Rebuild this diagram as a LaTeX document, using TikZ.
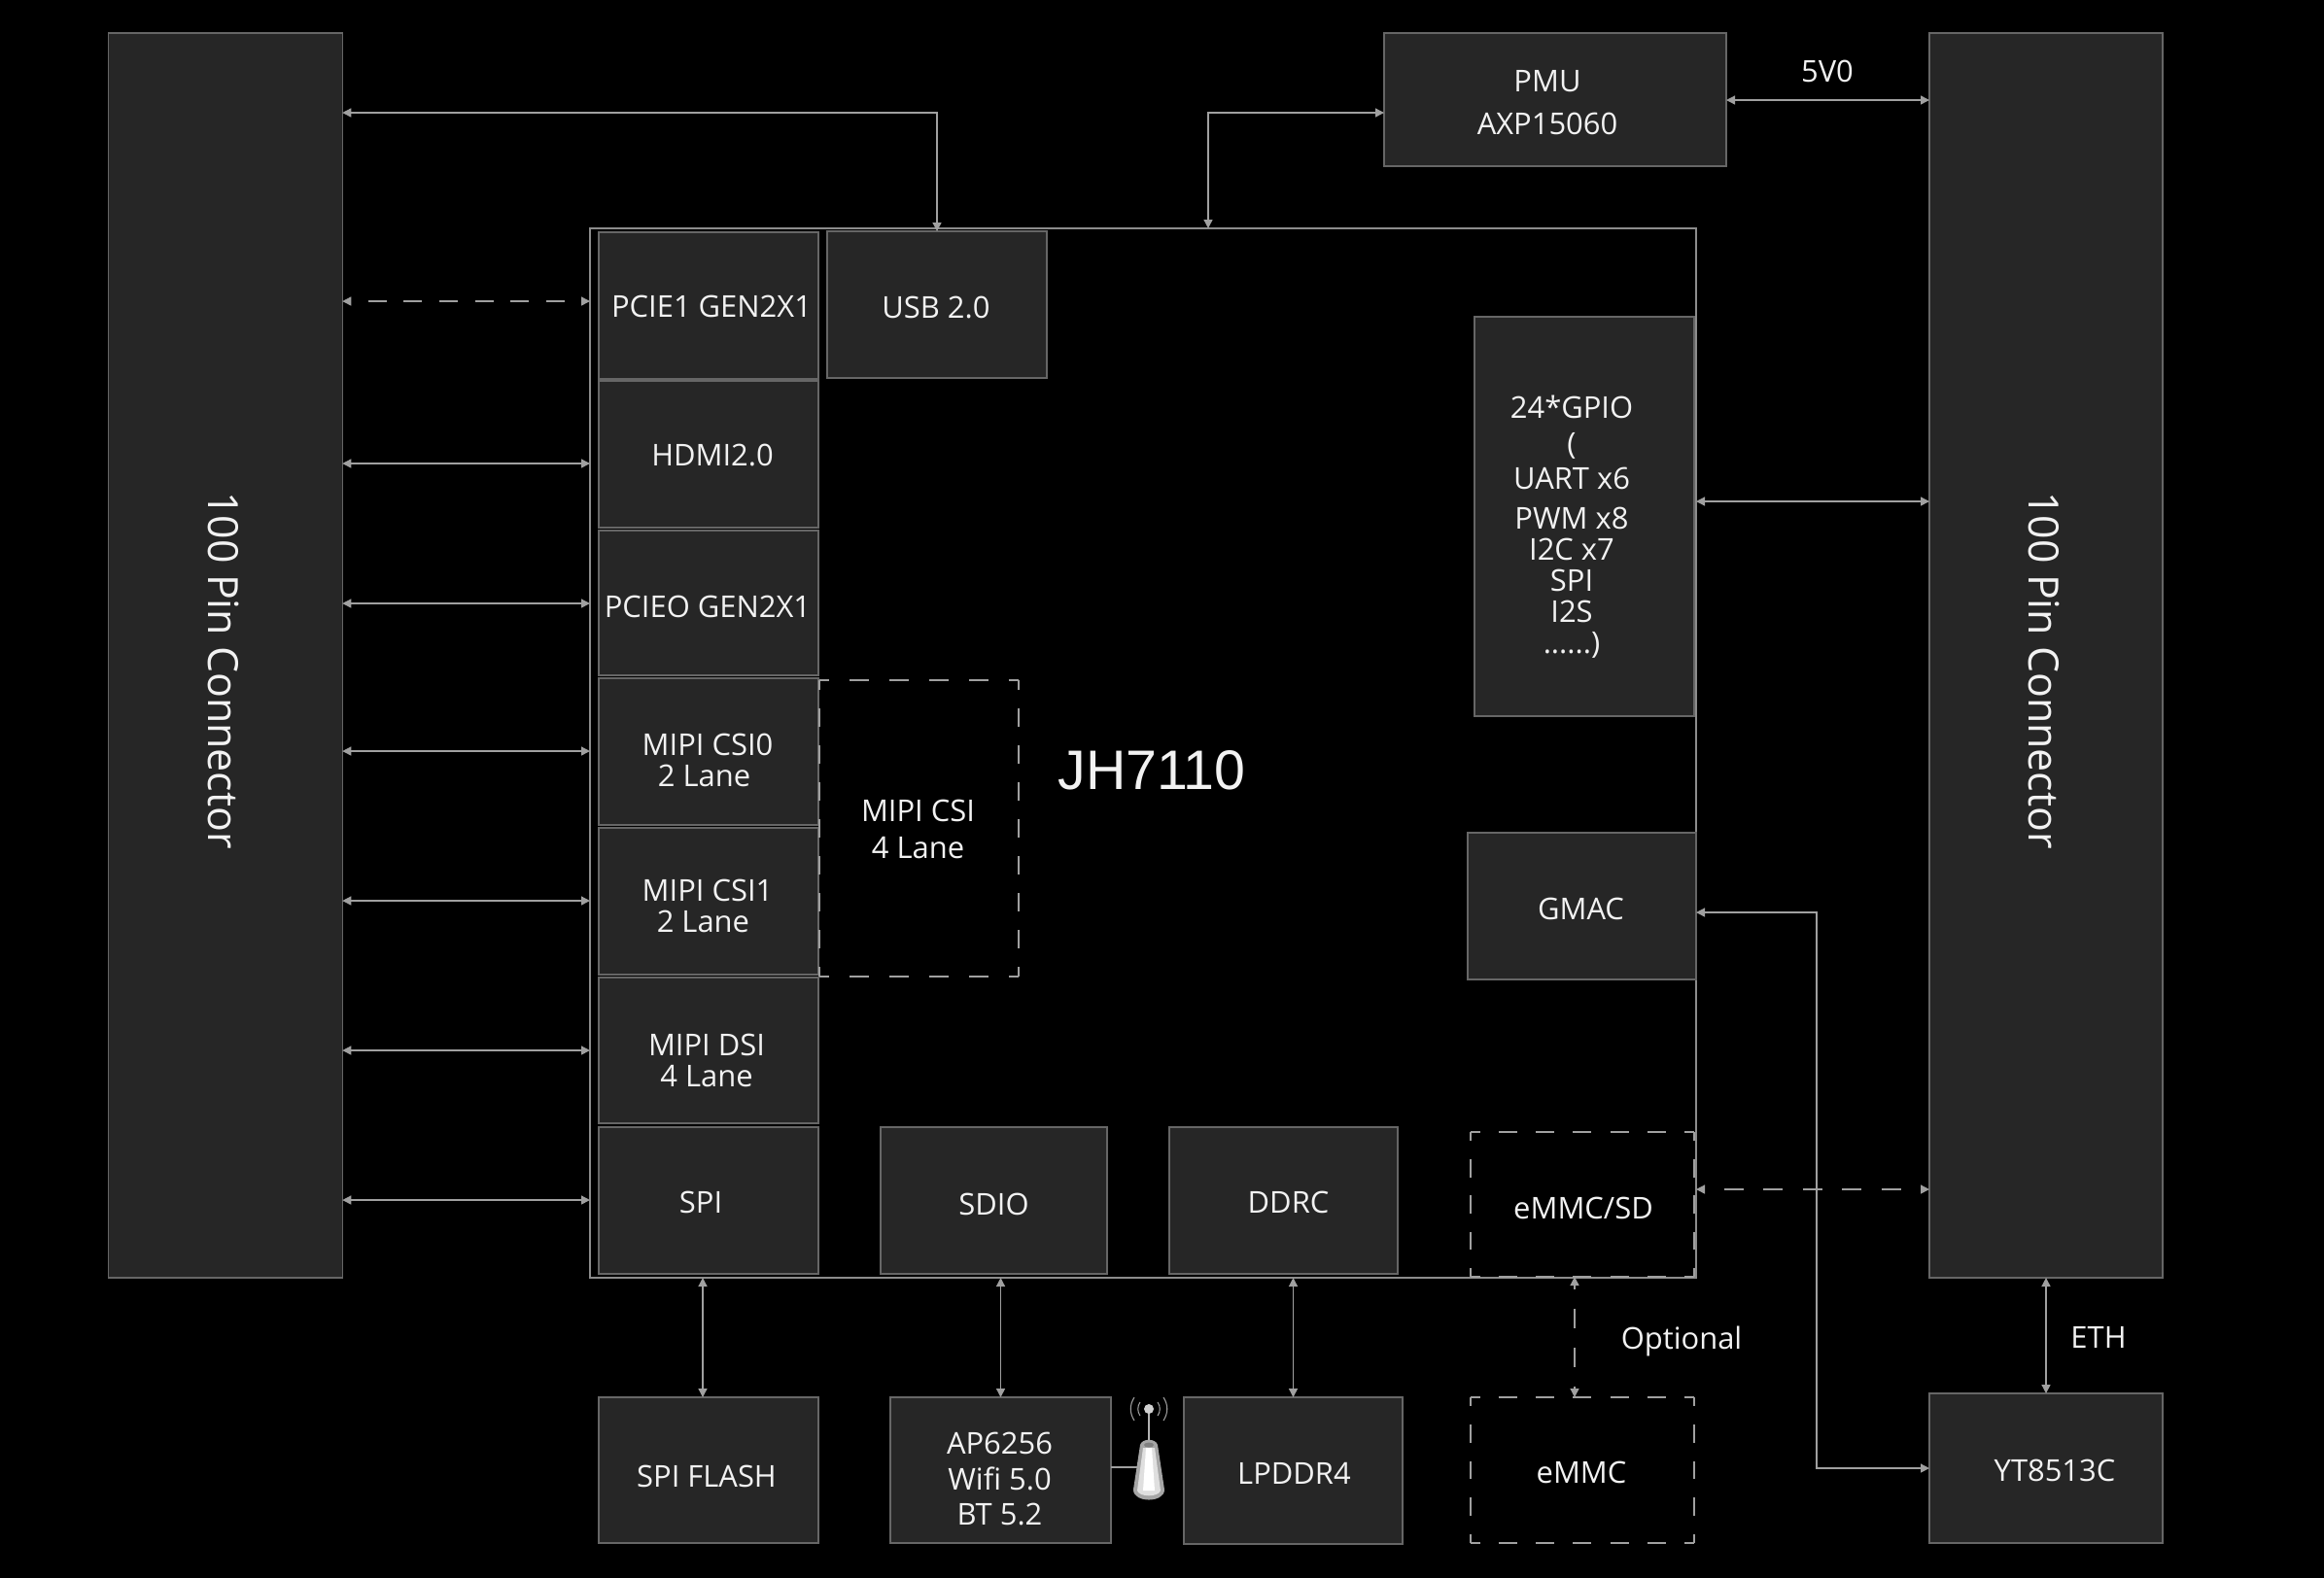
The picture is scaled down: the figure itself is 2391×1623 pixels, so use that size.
\documentclass[tikz,border=0pt]{standalone}
\usepackage{fontspec}
\setmainfont{Open Sans}
\newfontfamily\chipfont{Liberation Sans}
\usepackage{xcolor}
\usetikzlibrary{arrows.meta}
\definecolor{blkfill}{HTML}{262626}
\definecolor{blkline}{HTML}{666666}
\definecolor{chipline}{HTML}{8C8C8C}
\definecolor{linkcol}{HTML}{A0A0A0}
\definecolor{txtcol}{HTML}{F2F2F2}
\tikzset{
    blk/.style = {rectangle, draw=blkline, fill=blkfill, line width=0.38pt, inner sep=0pt, outer sep=0pt},
    chipblk/.style = {rectangle, draw=chipline, line width=0.38pt, inner sep=0pt, outer sep=0pt},
    optblk/.style = {rectangle, inner sep=0pt, outer sep=0pt},
    optside/.style = {draw=linkcol, line width=0.38pt},
    txt/.style = {text=txtcol, font=\fontsize{8.8}{9.1}\selectfont, align=center, inner sep=0pt},
    bigtxt/.style = {text=txtcol, font=\fontsize{12.2}{14}\selectfont, inner sep=0pt},
    link/.style = {draw=linkcol, line width=0.38pt, {Triangle[length=0.9mm, width=0.9mm]}-{Triangle[length=0.9mm, width=0.9mm]}},
}
% style, name, x1, y1, x2, y2, text dx, text dy, text (all in reference pixels)
\newcommand{\putblk}[9]{
    \node[#1, minimum width={(#5-#3)*0.1mm}, minimum height={(#6-#4)*0.1mm},
        label={[txt, xshift={(#7)*0.1mm}, yshift={-(#8)*0.1mm}]center:#9}]
        (#2) at ({(#3+#5)/2},{(#4+#6)/2}) {};
}
% dashed sides of a node: name, dash and phase across, dash and phase along the height
\newcommand{\optsides}[5]{
    \draw[optside, dash pattern=on #2mm off #2mm, dash phase=#3mm]
        (#1.north west) -- (#1.north east) (#1.south west) -- (#1.south east);
    \draw[optside, dash pattern=on #4mm off #4mm, dash phase=#5mm]
        (#1.north west) -- (#1.south west) (#1.north east) -- (#1.south east);
}

\begin{document}
\begin{tikzpicture}[x=0.1mm, y=-0.1mm]
    \useasboundingbox (0,0) rectangle (2391,1623);
    \fill[black] (-10,-10) rectangle (2401,1633);

    \node[blk, minimum width=24.05mm, minimum height=128.1mm,
        label={[bigtxt, xshift=-0.2mm, yshift=-1.55mm, rotate=-90]center:100 Pin Connector}] (conL) at (232,674.5) {};
    \node[blk, minimum width=24mm, minimum height=128.1mm,
        label={[bigtxt, xshift=-0.2mm, yshift=-1.55mm, rotate=-90]center:100 Pin Connector}] (conR) at (2105,674.5) {};
    \node[chipblk, minimum width=113.8mm, minimum height=108mm,
        label={[bigtxt, font=\chipfont\fontsize{16.3}{17}\selectfont, xshift=0.9mm, yshift=-1.8mm]center:JH7110}] (chip) at (1176,775) {};

    \putblk{blk}{pmu}{1424}{34}{1776}{171}{-8}{3}{PMU\\[3.4pt]AXP15060}
    \putblk{blk}{usb}{851}{238}{1077}{389}{-1}{3}{USB 2.0}
    \putblk{blk}{pcieA}{616}{239}{842}{390}{3}{1}{PCIE1 GEN2X1}
    \putblk{blk}{hdmi}{616}{392}{842}{543}{4}{1}{HDMI2.0}
    \putblk{blk}{pcieB}{616}{546}{842}{695}{-1}{4}{PCIEO GEN2X1}
    \putblk{blk}{csiA}{616}{698}{842}{849}{-1}{9}{MIPI CSI0\\2 Lane\hspace*{2pt}}
    \putblk{blk}{csiB}{616}{852}{842}{1003}{-1}{5}{MIPI CSI1\\2 Lane\hspace*{2.6pt}}
    \putblk{blk}{dsi}{616}{1006}{842}{1156}{-2}{10}{MIPI DSI\\4 Lane}
    \putblk{blk}{spi}{616}{1160}{842}{1311}{-8}{2}{SPI}
    \putblk{optblk}{csiC}{843}{700}{1048}{1005}{-1}{1}{MIPI CSI\\[1.7pt]4 Lane}
    \putblk{blk}{gpio}{1517}{326}{1743}{737}{-13}{11}{24*GPIO\\[1.3pt](\\[1.3pt]UART x6\\[2.6pt]PWM x8\\I2C x7\\SPI\\I2S\\......)}
    \putblk{blk}{gmac}{1510}{857}{1745}{1008}{-1}{3}{GMAC}
    \putblk{blk}{sdio}{906}{1160}{1139}{1311}{0}{4}{SDIO}
    \putblk{blk}{ddrc}{1203}{1160}{1438}{1311}{5}{2}{DDRC}
    \putblk{optblk}{emmcsd}{1513}{1165}{1743}{1314}{1}{4}{eMMC/SD}
    \putblk{blk}{flash}{616}{1438}{842}{1588}{-2}{6}{SPI FLASH}
    \putblk{blk}{ap}{916}{1438}{1143}{1588}{-1}{9}{AP6256\\[1.2pt]Wifi 5.0\\[1.2pt]BT 5.2}
    \putblk{blk}{lpddr}{1218}{1438}{1443}{1589}{1}{3}{LPDDR4}
    \putblk{optblk}{emmc}{1513}{1438}{1743}{1588}{-1}{2}{eMMC}
    \putblk{blk}{yt}{1985}{1434}{2225}{1588}{9}{2}{YT8513C}

    \optsides{csiC}{2.05}{1.025}{1.905}{0.95}
    \optsides{emmcsd}{1.915}{0.96}{1.865}{0.93}
    \optsides{emmc}{1.915}{0.96}{1.875}{0.94}

    \node[txt] (lab5v) at (1880,73) {5V0};
    \node[txt] (labopt) at (1730,1380) {Optional};
    \node[txt] (labeth) at (2159,1376) {ETH};

    % top
    \draw[link] (conL.east |- 0,116) -| (usb.north);
    \draw[link] (chip.north -| 1243,0) |- (pmu.west |- 0,116);
    \draw[link] (pmu.east |- 0,103) -- (conR.west |- 0,103);
    \draw[link] (chip.east |- 0,516) -- (conR.west |- 0,516);
    \draw[link] (gmac.east |- 0,939) -- ++(124,0) |- (yt.west);
    \draw[link, dash pattern=on 2mm off 2.05mm, dash phase=2.05mm] (chip.east |- 0,1224) -- (conR.west |- 0,1224);

    % left side
    \draw[link, dash pattern=on 1.9mm off 1.77mm, dash phase=1.9mm] (conL.east |- 0,310) -- (chip.west |- 0,310);
    \foreach \y in {477, 621, 773, 927, 1081, 1235} {
            \draw[link] (conL.east |- 0,\y) -- (chip.west |- 0,\y);
        }

    % bottom
    \draw[link] (chip.south -| 723,0) -- (flash.north -| 723,0);
    \draw[link] (chip.south -| ap.north) -- (ap.north);
    \draw[link] (chip.south -| lpddr.north) -- (lpddr.north);
    \draw[link, dash pattern=on 2mm off 2mm, dash phase=1.6mm] (emmcsd.south -| 1620,0) -- (emmc.north -| 1620,0);
    \draw[link] (conR.south -| yt.north) -- (yt.north);

    % antenna
    \coordinate (antfeed) at (1170,1510);
    \draw[draw=linkcol, line width=0.5pt] (ap.east |- antfeed) -- (antfeed);
    \draw[draw=linkcol!80!white, line width=0.75pt] (1182,1452) -- (1182,1484);
    \fill[linkcol!50!white] (1182,1450) circle (0.5mm);
    \foreach \s in {-1, 1} {
            \draw[draw=linkcol, line width=0.3pt] ({1182+\s*15},1438) .. controls ({1182+\s*20},1446) and ({1182+\s*20},1454) .. ({1182+\s*15},1462);
            \draw[draw=linkcol, line width=0.3pt] ({1182+\s*9},1443) .. controls ({1182+\s*12},1447) and ({1182+\s*12},1453) .. ({1182+\s*9},1457);
        }
    \fill[gray!70!white]
        (1173,1487) .. controls (1175,1480) and (1189,1480) .. (1191,1487) -- (1198,1533)
        .. controls (1198,1547) and (1166,1547) .. (1166,1533) -- cycle;
    \fill[gray!25!white]
        (1176,1490) -- (1188,1490) -- (1194,1534) .. controls (1192,1541) and (1172,1541) .. (1170,1534) -- cycle;
    \fill[white]
        (1179,1490) -- (1185,1490) -- (1188,1534) -- (1176,1534) -- cycle;
    \fill[gray] (1182,1487) ellipse (0.5mm and 0.25mm);
\end{tikzpicture}
\end{document}
